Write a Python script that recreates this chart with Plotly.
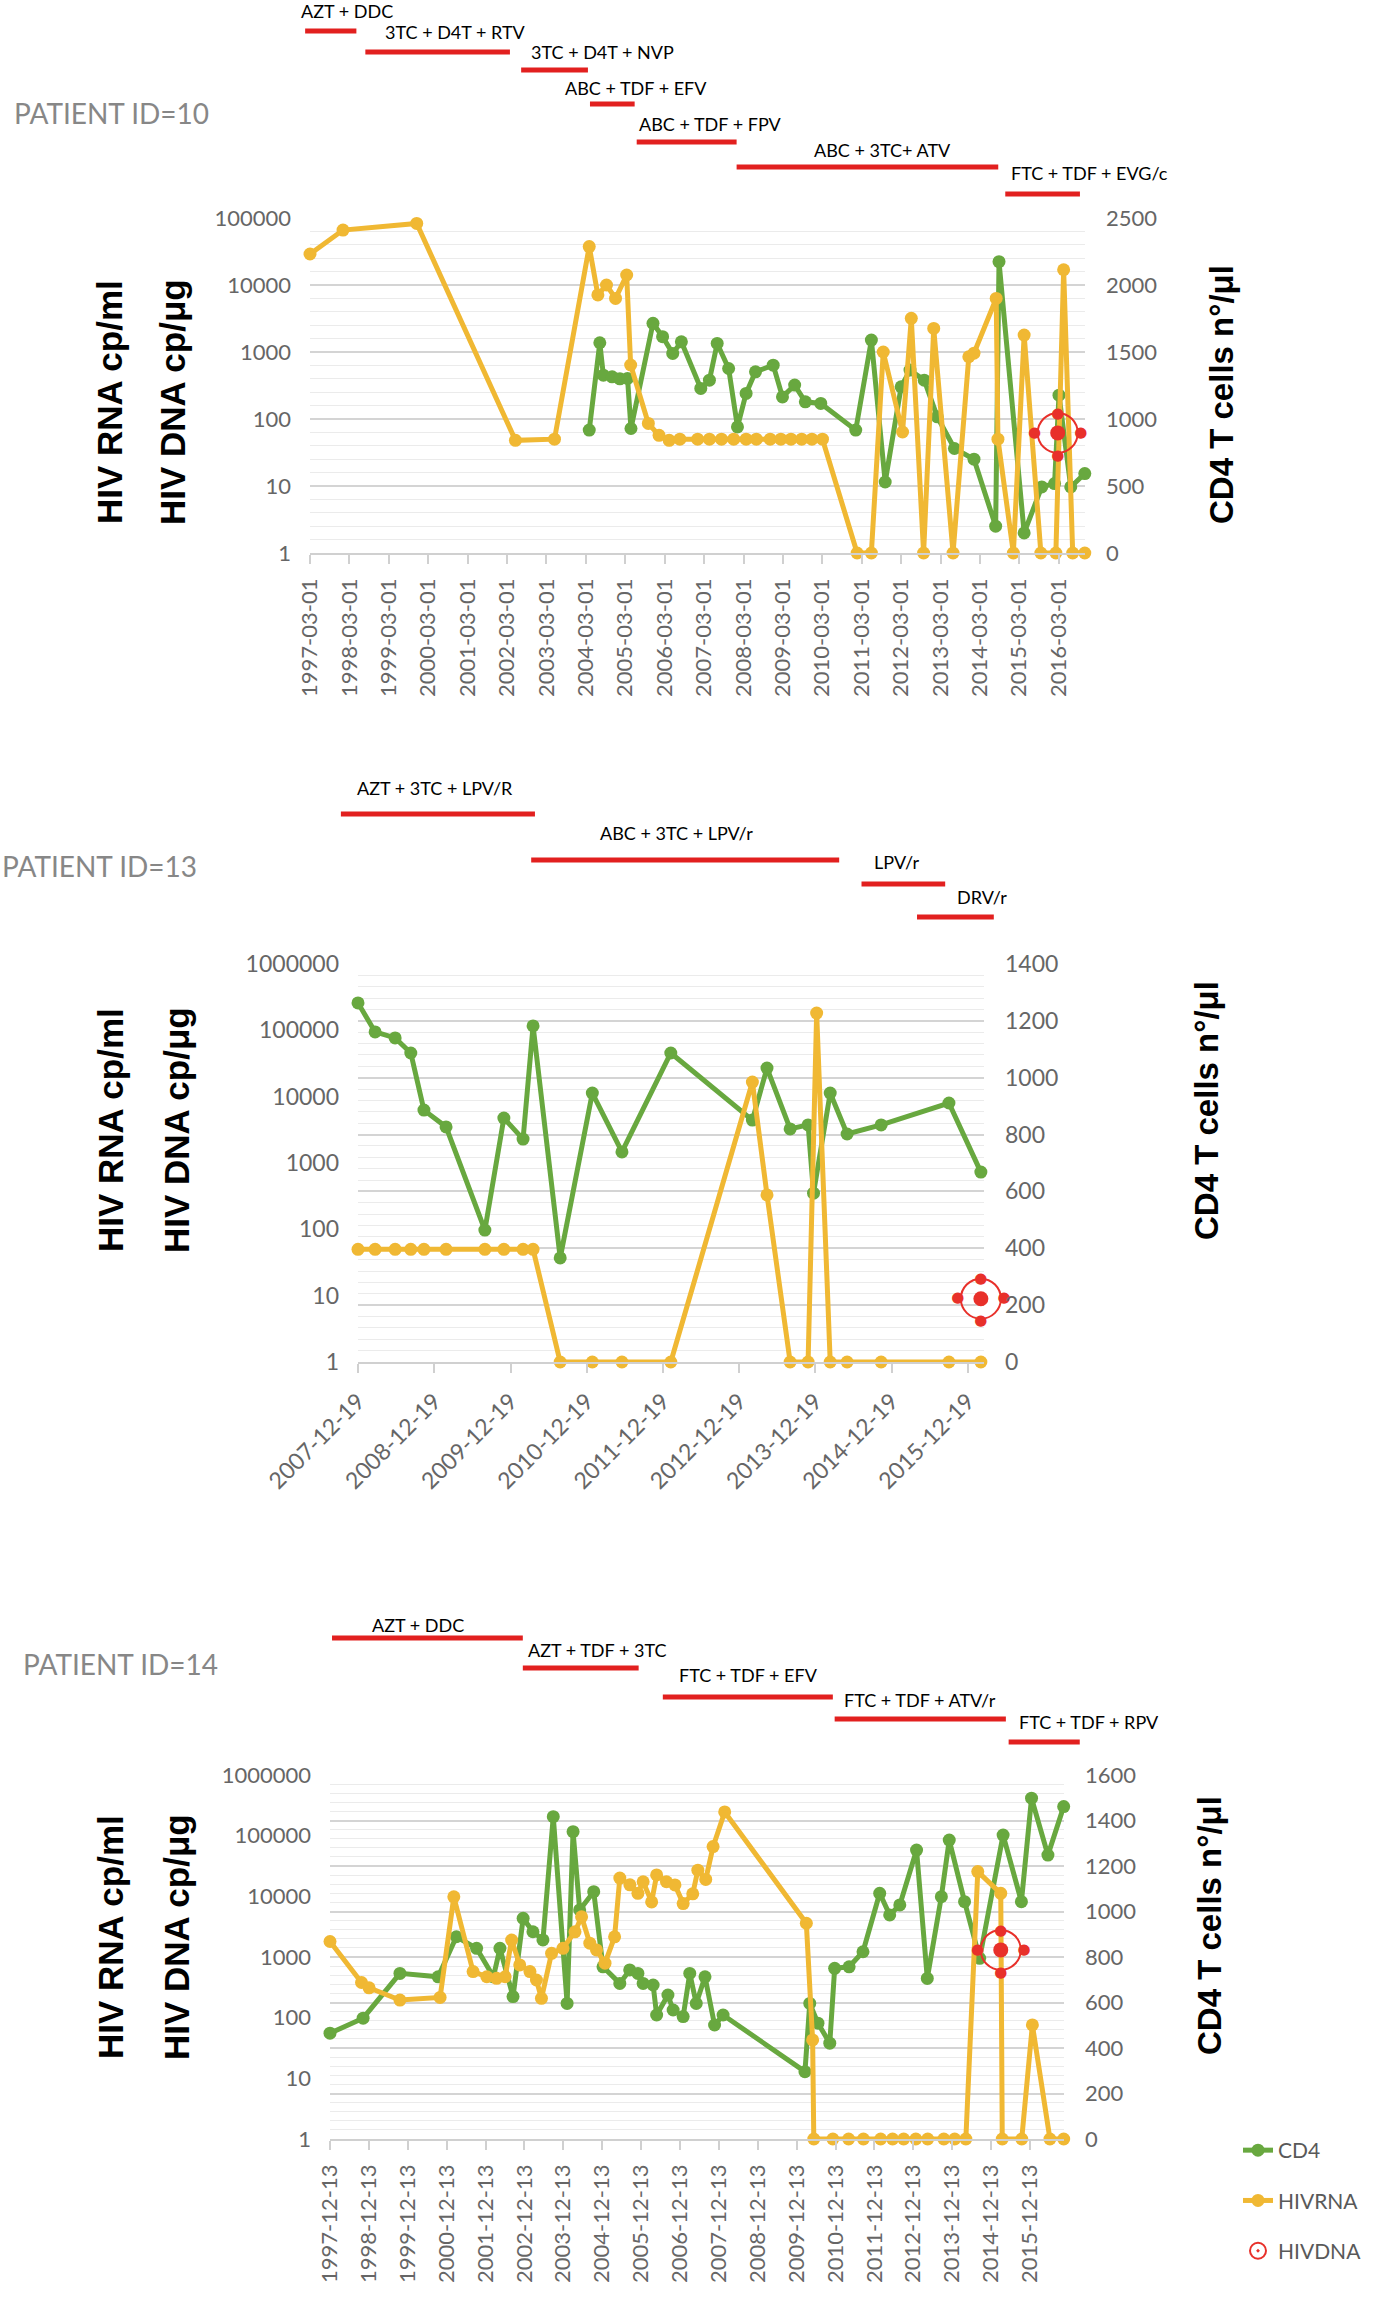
import plotly.graph_objects as go
import pandas as pd

# ---------------- DATA ----------------
# Patient 10
P10_CD4_DATES = ['2004-04-01','2004-07-08','2004-08-10','2004-10-30','2005-01-10','2005-03-22','2005-04-23','2005-11-13',
                 '2006-02-10','2006-05-15','2006-08-03','2007-01-30','2007-04-20','2007-07-01','2007-10-15','2008-01-05',
                 '2008-03-25','2008-06-20','2008-12-01','2009-02-25','2009-06-18','2009-09-25','2010-02-15','2011-01-05',
                 '2011-05-30','2011-10-05','2012-03-01','2012-05-22','2012-10-01','2013-01-30','2013-07-08','2014-01-05',
                 '2014-07-25','2014-08-25','2015-04-15','2015-09-25','2016-01-22','2016-03-03','2016-06-20','2016-10-28']
P10_CD4 = [917,1569,1327,1315,1300,1303,929,1714,1614,1489,1576,1228,1290,1564,1377,941,1191,1352,1402,1165,1253,1128,
           1116,917,1589,530,1240,1365,1290,1016,780,700,200,2174,150,493,518,1178,493,593]
P10_RNA_DATES = ['1997-03-01','1998-01-01','1999-11-15','2002-05-18','2003-05-15','2004-04-01','2004-06-20','2004-09-08',
                 '2004-12-01','2005-03-14','2005-04-20','2005-10-01','2006-01-08','2006-04-12','2006-07-20','2007-01-01',
                 '2007-04-20','2007-08-10','2007-12-01','2008-03-25','2008-06-28','2008-11-03','2009-02-10','2009-05-15',
                 '2009-08-22','2009-11-25','2010-03-03','2011-01-18','2011-05-30','2011-09-17','2012-03-14','2012-06-03',
                 '2012-09-25','2012-12-28','2013-06-25','2013-11-18','2014-01-05','2014-07-30','2014-08-15','2015-01-05',
                 '2015-04-15','2015-09-17','2016-02-03','2016-04-15','2016-07-08','2016-10-28']
P10_RNA = [29000,66000,83000,48,50,37500,7100,10000,6300,14100,640,86,57,48,50,50,50,50,50,50,50,50,50,50,50,50,50,
           1,1,1000,64,3180,1,2250,1,850,960,6300,50,1,1790,1,1,16900,1,1]
P10_DNA_DATES = ['2016-02-20']
P10_DNA = [62]
P10_TICKS = ['1997-03-01','1998-03-01','1999-03-01','2000-03-01','2001-03-01','2002-03-01','2003-03-01','2004-03-01',
             '2005-03-01','2006-03-01','2007-03-01','2008-03-01','2009-03-01','2010-03-01','2011-03-01','2012-03-01',
             '2013-03-01','2014-03-01','2015-03-01','2016-03-01']
P10_REG_NAMES = ['AZT + DDC','3TC + D4T + RTV','3TC + D4T + NVP','ABC + TDF + EFV','ABC + TDF + FPV','ABC + 3TC+ ATV','FTC + TDF + EVG/c']
P10_REG_START = ['1997-01-15','1998-07-27','2002-07-10','2004-04-08','2005-06-15','2007-12-28','2014-10-22']
P10_REG_END = ['1998-05-05','2002-03-28','2004-03-20','2005-05-27','2007-12-28','2014-08-18','2016-09-13']

# Patient 13
P13_DATES = ['2007-12-19','2008-03-10','2008-06-14','2008-08-28','2008-10-30','2009-02-13','2009-08-18','2009-11-17',
             '2010-02-17','2010-04-06','2010-08-14','2011-01-15','2011-06-06','2012-01-26','2013-02-20','2013-05-01',
             '2013-08-20','2013-11-14','2013-12-10','2014-02-28','2014-05-20','2014-10-30','2015-09-20','2016-02-20']
P13_CD4 = [1263,1161,1140,1087,886,827,464,858,784,1182,366,946,739,1087,851,1034,820,834,594,946,802,834,911,668]
P13_RNA_DATES = ['2007-12-19','2008-03-10','2008-06-14','2008-08-28','2008-10-30','2009-02-13','2009-08-18','2009-11-17',
                 '2010-02-17','2010-04-06','2010-08-14','2011-01-15','2011-06-06','2012-01-26','2013-02-20','2013-05-01',
                 '2013-08-20','2013-11-14','2013-12-25','2014-02-28','2014-05-20','2014-10-30','2015-09-20','2016-02-20']
P13_RNA = [50,50,50,50,50,50,50,50,50,50,1,1,1,1,16600,330,1,1,182000,1,1,1,1,1]
P13_DNA_DATES = ['2016-02-20']
P13_DNA = [9]
P13_TICKS = ['2007-12-19','2008-12-19','2009-12-19','2010-12-19','2011-12-19','2012-12-19','2013-12-19','2014-12-19','2015-12-19']
P13_REG_NAMES = ['AZT + 3TC + LPV/R','ABC + 3TC + LPV/r','LPV/r','DRV/r']
P13_REG_START = ['2007-09-28','2010-03-28','2014-07-28','2015-04-20']
P13_REG_END = ['2010-04-15','2014-04-12','2015-09-02','2016-04-22']

# Patient 14
P14_CD4_DATES = ['1997-12-13','1998-10-20','1999-10-01','2000-09-24','2001-03-14','2001-09-20','2002-02-25','2002-04-27',
                 '2002-08-28','2002-12-01','2003-03-03','2003-06-05','2003-09-10','2004-01-18','2004-03-14','2004-05-15',
                 '2004-09-24','2004-12-20','2005-05-27','2005-08-28','2005-11-13','2006-01-01','2006-04-05','2006-05-08',
                 '2006-08-22','2006-10-10','2007-01-12','2007-03-15','2007-05-15','2007-08-05','2007-11-03','2008-01-22',
                 '2010-03-01','2010-04-15','2010-07-01','2010-10-20','2010-12-05','2011-04-20','2011-08-28','2012-02-01',
                 '2012-05-05','2012-08-08','2013-01-12','2013-04-23','2013-09-02','2013-11-15','2014-04-08','2014-08-28',
                 '2015-04-05','2015-09-24','2015-12-28','2016-05-30','2016-10-25']
P14_CD4 = [465,531,728,713,889,838,713,838,626,970,911,875,1417,596,1351,1007,1087,757,684,743,728,684,677,545,633,567,
           538,728,596,713,501,545,296,596,509,421,750,757,823,1080,985,1029,1270,706,1065,1314,1043,794,1336,1043,1498,1248,1461]
P14_RNA_DATES = ['1997-12-13','1998-10-05','1998-12-15','1999-10-01','2000-10-12','2001-02-18','2001-08-18','2001-12-25',
                 '2002-03-27','2002-06-15','2002-08-15','2002-10-30','2003-02-03','2003-04-05','2003-05-22','2003-08-25',
                 '2003-12-10','2004-04-01','2004-06-02','2004-08-18','2004-10-20','2005-01-08','2005-04-08','2005-05-27',
                 '2005-08-30','2005-11-13','2006-01-01','2006-03-22','2006-05-08','2006-08-08','2006-10-27','2007-01-12',
                 '2007-04-12','2007-05-30','2007-08-12','2007-10-20','2008-02-06','2010-03-14','2010-05-12','2010-05-23',
                 '2010-11-18','2011-04-15','2011-09-01','2012-02-10','2012-06-01','2012-09-13','2013-01-05','2013-04-27',
                 '2013-09-25','2014-01-05','2014-04-20','2014-08-10','2015-03-14','2015-03-28','2015-09-27','2016-01-05',
                 '2016-06-18','2016-10-25']
P14_RNA = [1800,380,310,195,216,9800,575,473,445,473,1900,740,575,418,208,1150,1390,2600,4600,1690,1310,790,2150,20000,
           15500,11200,17400,8100,22500,17400,15400,7600,11000,27000,19000,66000,246000,3600,43,1,1,1,1,1,1,1,1,1,1,1,1,
           25600,11200,1,1,76,1,1]
P14_DNA_DATES = ['2015-03-14']
P14_DNA = [1310]
P14_TICKS = ['1997-12-13','1998-12-13','1999-12-13','2000-12-13','2001-12-13','2002-12-13','2003-12-13','2004-12-13',
             '2005-12-13','2006-12-13','2007-12-13','2008-12-13','2009-12-13','2010-12-13','2011-12-13','2012-12-13',
             '2013-12-13','2014-12-13','2015-12-13']
P14_REG_NAMES = ['AZT + DDC','AZT + TDF + 3TC','FTC + TDF + EFV','FTC + TDF + ATV/r','FTC + TDF + RPV']
P14_REG_START = ['1998-01-01','2002-11-28','2006-07-05','2010-12-05','2015-05-27']
P14_REG_END = ['2002-11-28','2005-11-20','2010-11-18','2015-05-01','2017-03-25']

LOG_TICKS_5 = [1, 10, 100, 1000, 10000, 100000]
LOG_TICKS_6 = [1, 10, 100, 1000, 10000, 100000, 1000000]

# ---------------- STYLE / LAYOUT ----------------
W, H = 1382, 2304
def px(x): return x / W
def py(y): return 1 - y / H

GREEN = '#68A83F'
YELLOW = '#F0B833'
RED = '#E8302A'
BAR_RED = '#E2201F'
TICK_COLOR = '#666666'
AXIS_COLOR = '#D0D0D0'
GRID = '#D4D4D4'
MINOR = '#EBEBEB'
FONT = 'Lato'
LINE_W = 5
MARK = 13

panels = [
    dict(title='PATIENT ID=10', title_pos=(12, 113), box=(310, 1085, 218, 553),
         xrange=['1997-03-01', '2016-10-30'], ticks=P10_TICKS, tickangle=-90,
         cd4_dates=P10_CD4_DATES, cd4=P10_CD4, rna_dates=P10_RNA_DATES, rna=P10_RNA,
         dna_dates=P10_DNA_DATES, dna=P10_DNA, cmax=2500, cstep=500, lmax=5, logticks=LOG_TICKS_5,
         reg=(P10_REG_NAMES, P10_REG_START, P10_REG_END),
         bar_y=[31, 52, 70, 104, 142, 167, 194], lab_y=[11, 32, 52, 88, 124, 150, 173],
         lab_shift=[16, 18, 48, 24, 24, 15, 47],
         ltitle=(110, 173, 402), rtitle=(1221, 395), fs=22),
    dict(title='PATIENT ID=13', title_pos=(0, 866), box=(358, 984, 964, 1362),
         xrange=['2007-12-19', '2016-03-06'], ticks=P13_TICKS, tickangle=-45,
         cd4_dates=P13_DATES, cd4=P13_CD4, rna_dates=P13_RNA_DATES, rna=P13_RNA,
         dna_dates=P13_DNA_DATES, dna=P13_DNA, cmax=1400, cstep=200, lmax=6, logticks=LOG_TICKS_6,
         reg=(P13_REG_NAMES, P13_REG_START, P13_REG_END),
         bar_y=[814, 860, 884, 917], lab_y=[788, 833, 862, 897], lab_shift=[-3, -9, -6, 27],
         ltitle=(110, 176, 1130), rtitle=(1206, 1111), fs=23),
    dict(title='PATIENT ID=14', title_pos=(21, 1664), box=(330, 1064, 1775, 2139),
         xrange=['1997-12-13', '2016-10-28'], ticks=P14_TICKS, tickangle=-90,
         cd4_dates=P14_CD4_DATES, cd4=P14_CD4, rna_dates=P14_RNA_DATES, rna=P14_RNA,
         dna_dates=P14_DNA_DATES, dna=P14_DNA, cmax=1600, cstep=200, lmax=6, logticks=LOG_TICKS_6,
         reg=(P14_REG_NAMES, P14_REG_START, P14_REG_END),
         bar_y=[1638, 1668, 1697, 1719, 1742], lab_y=[1625, 1650, 1675, 1700, 1722], lab_shift=[-9, 16, 1, 0, 45],
         ltitle=(110, 176, 1937), rtitle=(1209, 1926), fs=22),
]


def wide_range(r, d0, d1):
    t0 = pd.Timestamp(r[0]).value
    t1 = pd.Timestamp(r[1]).value
    k = (t1 - t0) / (d1 - d0)
    a = t0 - d0 * k
    b = t1 + (1 - d1) * k
    return [pd.Timestamp(int(a)).strftime('%Y-%m-%d %H:%M:%S'), pd.Timestamp(int(b)).strftime('%Y-%m-%d %H:%M:%S')]


fig = go.Figure()
layout = {}
shapes = []
annotations = []

for i, p in enumerate(panels):
    xid = ['x', 'x2', 'x3'][i]
    ycd = ['y', 'y3', 'y5'][i]
    ylg = ['y2', 'y4', 'y6'][i]
    xw = ['x4', 'x5', 'x6'][i]
    yw = ['y7', 'y8', 'y9'][i]
    key = lambda a: a[0] + 'axis' + a[1:]
    x0, x1, yt, yb = p['box']
    dom_x = [px(x0), px(x1)]
    show = (i == 2)
    tf = dict(family=FONT, size=p['fs'], color=TICK_COLOR)

    fig.add_trace(go.Scatter(x=p['cd4_dates'], y=p['cd4'], xaxis=xid, yaxis=ycd, mode='lines+markers',
                             name='CD4', legendgroup='cd4', showlegend=show, cliponaxis=False,
                             line=dict(color=GREEN, width=LINE_W), marker=dict(size=MARK, color=GREEN)))
    fig.add_trace(go.Scatter(x=p['rna_dates'], y=p['rna'], xaxis=xid, yaxis=ylg, mode='lines+markers',
                             name='HIVRNA', legendgroup='rna', showlegend=show, cliponaxis=False,
                             line=dict(color=YELLOW, width=LINE_W), marker=dict(size=MARK, color=YELLOW)))
    # HIV DNA target marker: ring + centre + 4 satellite dots
    fig.add_trace(go.Scatter(x=p['dna_dates'], y=p['dna'], xaxis=xid, yaxis=ylg, mode='markers',
                             name='HIVDNA', legendgroup='dna', showlegend=show, cliponaxis=False,
                             marker=dict(symbol='circle-open-dot', size=40, color=RED, line=dict(width=2, color=RED))))
    fig.add_trace(go.Scatter(x=p['dna_dates'], y=p['dna'], xaxis=xid, yaxis=ylg, mode='markers',
                             showlegend=False, legendgroup='dna', cliponaxis=False, hoverinfo='skip',
                             marker=dict(symbol='circle', size=15, color=RED)))
    for pos, s in [('top center', 17), ('bottom center', 23), ('middle left', 25), ('middle right', 25)]:
        fig.add_trace(go.Scatter(x=p['dna_dates'], y=p['dna'], xaxis=xid, yaxis=ylg, mode='markers+text',
                                 text=['●'], textposition=pos, showlegend=False, legendgroup='dna',
                                 cliponaxis=False, hoverinfo='skip',
                                 textfont=dict(family='DejaVu Sans', size=15, color=RED),
                                 marker=dict(size=s, color='rgba(0,0,0,0)')))
    fig.add_trace(go.Scatter(x=[], y=[], xaxis=xw, yaxis=yw, showlegend=False, hoverinfo='skip'))

    layout[key(xid)] = dict(domain=dom_x, anchor=ycd, type='date', range=p['xrange'],
                            tickvals=p['ticks'], ticktext=p['ticks'], tickangle=p['tickangle'],
                            tickfont=tf, showgrid=False, zeroline=False, showline=True,
                            linecolor=AXIS_COLOR, linewidth=1.5, ticks='outside', ticklen=9,
                            tickcolor=AXIS_COLOR, tickwidth=1.5, ticklabelstandoff=6, automargin=False)
    layout[key(ycd)] = dict(domain=[py(yb), py(yt)], anchor=xid, side='right', range=[0, p['cmax']],
                            tick0=0, dtick=p['cstep'], showgrid=True, gridcolor=GRID, gridwidth=1.6,
                            minor=dict(dtick=p['cstep'] / 5, showgrid=True, gridcolor=MINOR, gridwidth=1.2),
                            zeroline=False, showline=False, ticks='', tickfont=tf, ticklabelstandoff=20,
                            automargin=False)
    layout[key(ylg)] = dict(overlaying=ycd, anchor=xid, side='left', type='log', range=[0, p['lmax']],
                            tickvals=p['logticks'], ticktext=[str(v) for v in p['logticks']],
                            showgrid=False, zeroline=False, showline=False, ticks='', tickfont=tf,
                            ticklabelstandoff=18, automargin=False)
    layout[key(xw)] = dict(domain=[0, 1], anchor=yw, type='date', range=wide_range(p['xrange'], dom_x[0], dom_x[1]),
                           visible=False, automargin=False)
    layout[key(yw)] = dict(domain=[0, 1], anchor=xw, range=[0, 1], visible=False, automargin=False)

    names, starts, ends = p['reg']
    for j, (nm, s, e) in enumerate(zip(names, starts, ends)):
        shapes.append(dict(type='line', xref=xw, yref='paper', x0=s, x1=e,
                           y0=py(p['bar_y'][j]), y1=py(p['bar_y'][j]),
                           line=dict(color=BAR_RED, width=5)))
        mid = pd.Timestamp(s) + (pd.Timestamp(e) - pd.Timestamp(s)) / 2
        annotations.append(dict(xref=xw, yref='paper', x=mid.strftime('%Y-%m-%d'), y=py(p['lab_y'][j]),
                                text=nm, showarrow=False, xanchor='center', yanchor='middle',
                                xshift=p['lab_shift'][j], font=dict(family=FONT, size=18, color='black')))

    tx, ty = p['title_pos']
    annotations.append(dict(xref='paper', yref='paper', x=px(tx), y=py(ty), text=p['title'], showarrow=False,
                            xanchor='left', yanchor='middle', font=dict(family=FONT, size=28, color='#878787')))
    lx1, lx2, ly = p['ltitle']
    for txt, lx in [('HIV RNA cp/ml', lx1), ('HIV DNA cp/μg', lx2)]:
        annotations.append(dict(xref='paper', yref='paper', x=px(lx), y=py(ly), text='<b>' + txt + '</b>',
                                showarrow=False, textangle=-90, xanchor='center', yanchor='middle',
                                font=dict(family='Liberation Sans', size=35, color='black')))
    rx, ry = p['rtitle']
    annotations.append(dict(xref='paper', yref='paper', x=px(rx), y=py(ry), text='<b>CD4 T cells n°/μl</b>',
                            showarrow=False, textangle=-90, xanchor='center', yanchor='middle',
                            font=dict(family='Liberation Sans', size=33, color='black')))

fig.update_layout(
    width=W, height=H, autosize=False,
    margin=dict(l=0, r=0, t=0, b=0, pad=0, autoexpand=False),
    paper_bgcolor='white', plot_bgcolor='rgba(0,0,0,0)',
    shapes=shapes, annotations=annotations,
    legend=dict(x=px(1238), y=py(2130), xanchor='left', yanchor='top', bgcolor='rgba(0,0,0,0)',
                font=dict(family=FONT, size=21, color='#595959'), tracegroupgap=20, traceorder='grouped'),
    **layout,
)

fig.write_html('out.html', config={'displayModeBar': False},
               post_script="document.body.style.margin='0px';document.body.style.padding='0px';")
